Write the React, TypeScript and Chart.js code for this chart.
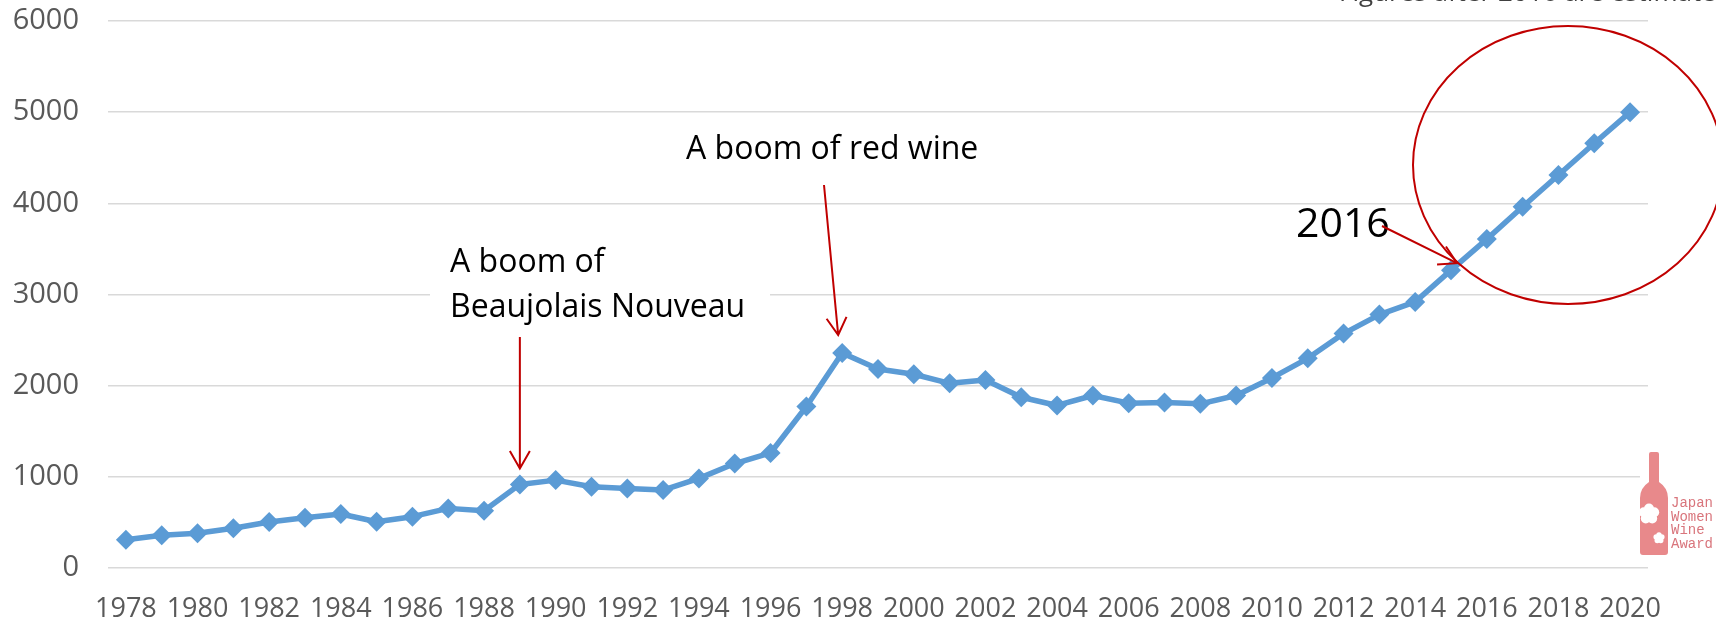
import React, { useEffect, useRef } from "react";
import { Chart, registerables } from "chart.js";

Chart.register(...registerables);

const years = [
  "1978", "1979", "1980", "1981", "1982", "1983", "1984", "1985", "1986", "1987",
  "1988", "1989", "1990", "1991", "1992", "1993", "1994", "1995", "1996", "1997",
  "1998", "1999", "2000", "2001", "2002", "2003", "2004", "2005", "2006", "2007",
  "2008", "2009", "2010", "2011", "2012", "2013", "2014", "2015", "2016", "2017",
  "2018", "2019", "2020",
];

const consumption = [
  310, 360, 381, 436, 505, 552, 592, 508, 563, 654,
  628, 917, 964, 891, 873, 855, 983, 1146, 1262, 1772,
  2358, 2183, 2125, 2026, 2063, 1873, 1783, 1892, 1808, 1815,
  1801, 1892, 2085, 2300, 2571, 2780, 2919, 3267, 3608, 3963,
  4311, 4659, 5000,
];

const xTickLabels = [
  "1978", "1980", "1982", "1984", "1986", "1988", "1990", "1992", "1994", "1996", "1998",
  "2000", "2002", "2004", "2006", "2008", "2010", "2012", "2014", "2016", "2018", "2020",
];

const yTickValues = [0, 1000, 2000, 3000, 4000, 5000, 6000];

const beaujolaisLines = ["A boom of", "Beaujolais Nouveau"];
const redWineLabel = "A boom of red wine";
const yearLabel = "2016";
const logoLines = ["Japan", "Women", "Wine", "Award"];
const topNote = "* Figures after 2016 are estimates based on imports, exp";

const RED = "#C00000";

function arrow(ctx: CanvasRenderingContext2D, x1: number, y1: number, x2: number, y2: number) {
  const ang = Math.atan2(y2 - y1, x2 - x1);
  const len = 20;
  const spread = Math.PI / 6;
  ctx.beginPath();
  ctx.moveTo(x1, y1);
  ctx.lineTo(x2, y2);
  ctx.moveTo(x2 - len * Math.cos(ang - spread), y2 - len * Math.sin(ang - spread));
  ctx.lineTo(x2, y2);
  ctx.lineTo(x2 - len * Math.cos(ang + spread), y2 - len * Math.sin(ang + spread));
  ctx.stroke();
}

const annotationPlugin = {
  id: "annotations",
  beforeDatasetsDraw(chart: any) {
    const ctx = chart.ctx as CanvasRenderingContext2D;
    ctx.save();
    ctx.fillStyle = "#ffffff";
    ctx.fillRect(430, 232, 340, 96);
    ctx.fillRect(1640, 446, 76, 112);
    ctx.restore();
  },
  afterDraw(chart: any) {
    const ctx = chart.ctx as CanvasRenderingContext2D;
    const xs = chart.scales.x;
    const ys = chart.scales.y;
    const px = (i: number) => xs.getPixelForValue(i);
    const py = (i: number) => ys.getPixelForValue(consumption[i]);
    ctx.save();

    ctx.fillStyle = "#000000";
    ctx.textAlign = "left";
    ctx.textBaseline = "alphabetic";
    ctx.font = "32px 'Open Sans'";
    ctx.fillText(beaujolaisLines[0], 450, 272);
    ctx.fillText(beaujolaisLines[1], 450, 317);
    ctx.fillText(redWineLabel, 686, 159);
    ctx.font = "41px 'Open Sans'";
    ctx.fillText(yearLabel, 1296, 237);

    ctx.fillStyle = "#404040";
    ctx.font = "26px 'Open Sans'";
    ctx.fillText(topNote, 1318, 0.5);

    ctx.strokeStyle = RED;
    ctx.lineWidth = 2;
    ctx.lineCap = "butt";
    const iB = years.indexOf("1989");
    arrow(ctx, px(iB), 337, px(iB), py(iB) - 16);
    const iR = years.indexOf("1998");
    arrow(ctx, 824, 185, px(iR) - 4, py(iR) - 18);
    const iS = years.indexOf("2015");
    arrow(ctx, 1382, 226, px(iS) + 6, py(iS) - 7);

    ctx.beginPath();
    ctx.ellipse(1568, 165, 155, 139, 0, 0, Math.PI * 2);
    ctx.stroke();

    ctx.fillStyle = "#E8898B";
    ctx.beginPath();
    ctx.moveTo(1649, 454);
    ctx.quadraticCurveTo(1649, 452, 1651, 452);
    ctx.lineTo(1657, 452);
    ctx.quadraticCurveTo(1659, 452, 1659, 454);
    ctx.lineTo(1659, 482);
    ctx.quadraticCurveTo(1668, 488, 1668, 498);
    ctx.lineTo(1668, 552);
    ctx.quadraticCurveTo(1668, 555, 1665, 555);
    ctx.lineTo(1643, 555);
    ctx.quadraticCurveTo(1640, 555, 1640, 552);
    ctx.lineTo(1640, 498);
    ctx.quadraticCurveTo(1640, 488, 1649, 482);
    ctx.closePath();
    ctx.fill();
    ctx.fillStyle = "#ffffff";
    const flower = (cx: number, cy: number, r: number) => {
      for (let k = 0; k < 5; k++) {
        const a = -Math.PI / 2 + (k * 2 * Math.PI) / 5;
        ctx.beginPath();
        ctx.arc(cx + Math.cos(a) * r * 0.5, cy + Math.sin(a) * r * 0.5, r * 0.45, 0, Math.PI * 2);
        ctx.fill();
      }
      ctx.beginPath();
      ctx.arc(cx, cy, r * 0.5, 0, Math.PI * 2);
      ctx.fill();
    };
    flower(1649, 514, 11);
    flower(1659, 538, 6);
    ctx.fillStyle = "#D9757C";
    ctx.font = "14px 'Liberation Mono'";
    const logoY = [507, 521, 534, 548];
    logoLines.forEach((t, i) => ctx.fillText(t, 1671, logoY[i]));

    ctx.restore();
  },
};

export default function App() {
  const ref = useRef<HTMLCanvasElement | null>(null);
  useEffect(() => {
    if (!ref.current) return;
    const chart = new Chart(ref.current, {
      type: "line",
      data: {
        labels: years,
        datasets: [
          {
            data: consumption,
            borderColor: "#5B9BD5",
            backgroundColor: "#5B9BD5",
            borderWidth: 5.5,
            borderJoinStyle: "round",
            tension: 0,
            pointStyle: "rectRot",
            pointRadius: 10,
            pointBorderWidth: 0,
            pointBackgroundColor: "#5B9BD5",
            fill: false,
          },
        ],
      },
      options: {
        animation: false,
        responsive: true,
        maintainAspectRatio: false,
        layout: { padding: { left: 0, right: 68, top: 21, bottom: 0 } },
        plugins: { legend: { display: false }, tooltip: { enabled: false } },
        scales: {
          x: {
            offset: true,
            grid: { display: false, drawTicks: false },
            border: { display: false },
            afterFit: (s: any) => {
              s.height = 56;
              s.paddingLeft = 0;
              s.paddingRight = 0;
            },
            ticks: {
              autoSkip: false,
              maxRotation: 0,
              minRotation: 0,
              padding: 25,
              color: "#595959",
              font: { family: "'Open Sans'", size: 27 },
              callback: (_v: any, i: number) => (xTickLabels.includes(years[i]) ? years[i] : ""),
            },
          },
          y: {
            min: 0,
            max: 6000,
            afterFit: (s: any) => {
              s.width = 108;
              s.paddingTop = 0;
              s.paddingBottom = 0;
            },
            afterBuildTicks: (s: any) => {
              s.ticks = yTickValues.map((v) => ({ value: v }));
            },
            grid: { color: "#D9D9D9", lineWidth: 1.5, drawTicks: false },
            border: { display: false },
            ticks: {
              padding: 29,
              color: "#595959",
              font: { family: "'Open Sans'", size: 29 },
              callback: (v: any) => String(v),
            },
          },
        },
      },
      plugins: [annotationPlugin],
    });
    return () => chart.destroy();
  }, []);
  return (
    <div style={{ position: "fixed", left: 0, top: 0, width: 1716, height: 624, background: "#fff" }}>
      <canvas ref={ref} />
    </div>
  );
}
